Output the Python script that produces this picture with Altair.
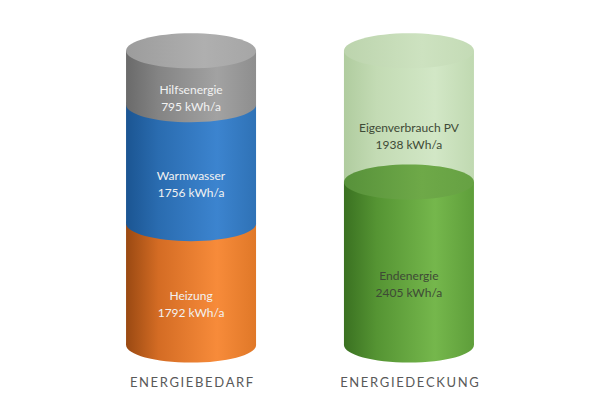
import altair as alt
import pandas as pd

# --- data ---
gruppe = ["ENERGIEBEDARF", "ENERGIEBEDARF", "ENERGIEBEDARF", "ENERGIEDECKUNG", "ENERGIEDECKUNG"]
kategorie = ["Heizung", "Warmwasser", "Hilfsenergie", "Endenergie", "Eigenverbrauch PV"]
werte = [1792, 1756, 795, 2405, 1938]
einheit = "kWh/a"

df = pd.DataFrame({"gruppe": gruppe, "kategorie": kategorie, "wert": werte})
df["ende"] = df.groupby("gruppe")["wert"].cumsum()
df["start"] = df["ende"] - df["wert"]
df["mitte"] = (df["start"] + df["ende"]) / 2
df["label"] = df["kategorie"] + "\n" + df["wert"].astype(str) + " " + einheit

# --- styles ---
def grad(stops):
    return alt.LinearGradient(
        gradient="linear", x1=0, x2=1, y1=0, y2=0,
        stops=[alt.GradientStop(offset=o, color=c) for o, c in stops],
    )

body_grad = {
    "Heizung": grad([(0, "#9a4912"), (0.25, "#d46c24"), (0.7, "#f78b3a"), (1, "#e07828")]),
    "Warmwasser": grad([(0, "#1b5592"), (0.25, "#2a6cb0"), (0.7, "#3c84cf"), (1, "#2f72b6")]),
    "Hilfsenergie": grad([(0, "#6a6a6a"), (0.25, "#848484"), (0.7, "#a2a2a2"), (1, "#8e8e8e")]),
    "Eigenverbrauch PV": grad([(0, "#b0cc9f"), (0.25, "#c3dbb4"), (0.7, "#d2e7c6"), (1, "#c0d9b1")]),
    "Endenergie": grad([(0, "#3a7121"), (0.25, "#559433"), (0.7, "#75b74c"), (1, "#5e9e3a")]),
}
top_grad = {
    "Hilfsenergie": grad([(0, "#9c9c9c"), (0.6, "#afafaf"), (1, "#a6a6a6")]),
    "Eigenverbrauch PV": grad([(0, "#bcd4ad"), (0.6, "#cde2c0"), (1, "#c4dbb6")]),
    "Endenergie": grad([(0, "#57913a"), (0.6, "#6ea948"), (1, "#66a143")]),
}

ellipse = "M-1,0A1,0.27,0,1,1,1,0A1,0.27,0,1,1,-1,0Z"
ell_size = 130 * 130
bar_w = 130

base = alt.Chart(df)
x_enc = alt.X(
    "gruppe:N",
    sort=["ENERGIEBEDARF", "ENERGIEDECKUNG"],
    scale=alt.Scale(type="point", padding=0.84),
    axis=alt.Axis(
        title=None, domain=False, ticks=False, labelAngle=0, labelPadding=6,
        labelFont="Lato", labelFontSize=13, labelColor="#595959",
        labelExpr="join(split(datum.label, ''), '\u2009')",
    ),
)
y_scale = alt.Scale(domain=[-369, 4975], nice=False, zero=False)

def y(field):
    return alt.Y(f"{field}:Q", scale=y_scale, axis=None)

order = ["Heizung", "Warmwasser", "Hilfsenergie", "Eigenverbrauch PV", "Endenergie"]
with_bottom = {"Heizung", "Warmwasser", "Hilfsenergie", "Endenergie"}
with_top = {"Hilfsenergie", "Eigenverbrauch PV", "Endenergie"}

layers = []
for k in order:
    sub = base.transform_filter(alt.datum.kategorie == k)
    if k in with_bottom:
        layers.append(
            sub.mark_point(shape=ellipse, size=ell_size, filled=True, opacity=1,
                           strokeWidth=0, fill=body_grad[k])
            .encode(x=x_enc, y=y("start"))
        )
    layers.append(
        sub.mark_bar(width=bar_w, fill=body_grad[k], strokeWidth=0)
        .encode(x=x_enc, y=y("start"), y2="ende:Q")
    )
    if k in with_top:
        layers.append(
            sub.mark_point(shape=ellipse, size=ell_size, filled=True, opacity=1,
                           strokeWidth=0, fill=top_grad[k])
            .encode(x=x_enc, y=y("ende"))
        )

text = base.mark_text(
    lineBreak="\n", font="Lato", fontSize=12, lineHeight=17,
    baseline="middle", align="center", dy=12,
).encode(
    x=x_enc,
    y=y("mitte"),
    text="label:N",
    color=alt.condition(alt.datum.gruppe == "ENERGIEBEDARF",
                        alt.value("#f2f2f2"), alt.value("#3e4a36")),
)
layers.append(text)

chart = alt.layer(*layers).properties(
    width=584, height=362, padding=0, background="white"
).configure_view(stroke=None)

chart.save("out.html", embed_options={"renderer": "svg", "actions": False})
